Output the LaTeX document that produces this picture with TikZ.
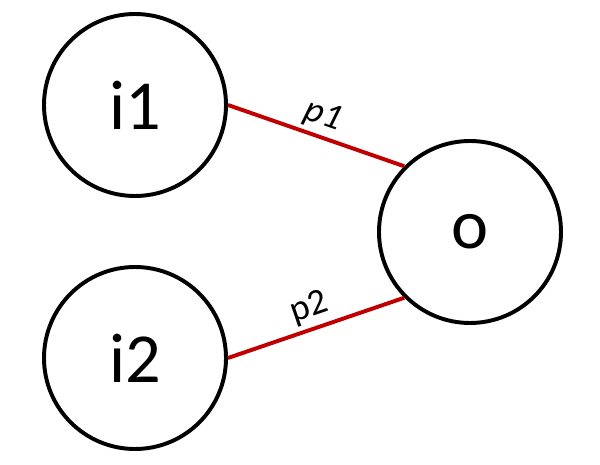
\documentclass[tikz,border=0pt]{standalone}
\usepackage{fontspec}
\setmainfont{Carlito}
\usetikzlibrary{positioning}

\begin{document}
\begin{tikzpicture}[
  neuron/.style={draw, circle, line width=2.8pt, minimum size=4.55cm,
    inner sep=0pt, font=\fontsize{50}{60}\selectfont},
  wire/.style={line width=2.8pt, draw={rgb,255:red,192;green,0;blue,0}},
  lbl/.style={font=\fontsize{26}{30}\selectfont, sloped, above, inner sep=3pt}
]
\useasboundingbox (0,0) rectangle (15,11.625);
\node[neuron] (i1) at (3.375,9.0) {i1};
\node[neuron] (i2) at (3.375,2.675) {i2};
\node[neuron] (o) at (11.75,5.825) {o};
\draw[wire] (i1.east) -- node[lbl] {\itshape p1} (o.135);
\draw[wire] (i2.east) -- node[lbl] {p2} (o.225);
\end{tikzpicture}
\end{document}
